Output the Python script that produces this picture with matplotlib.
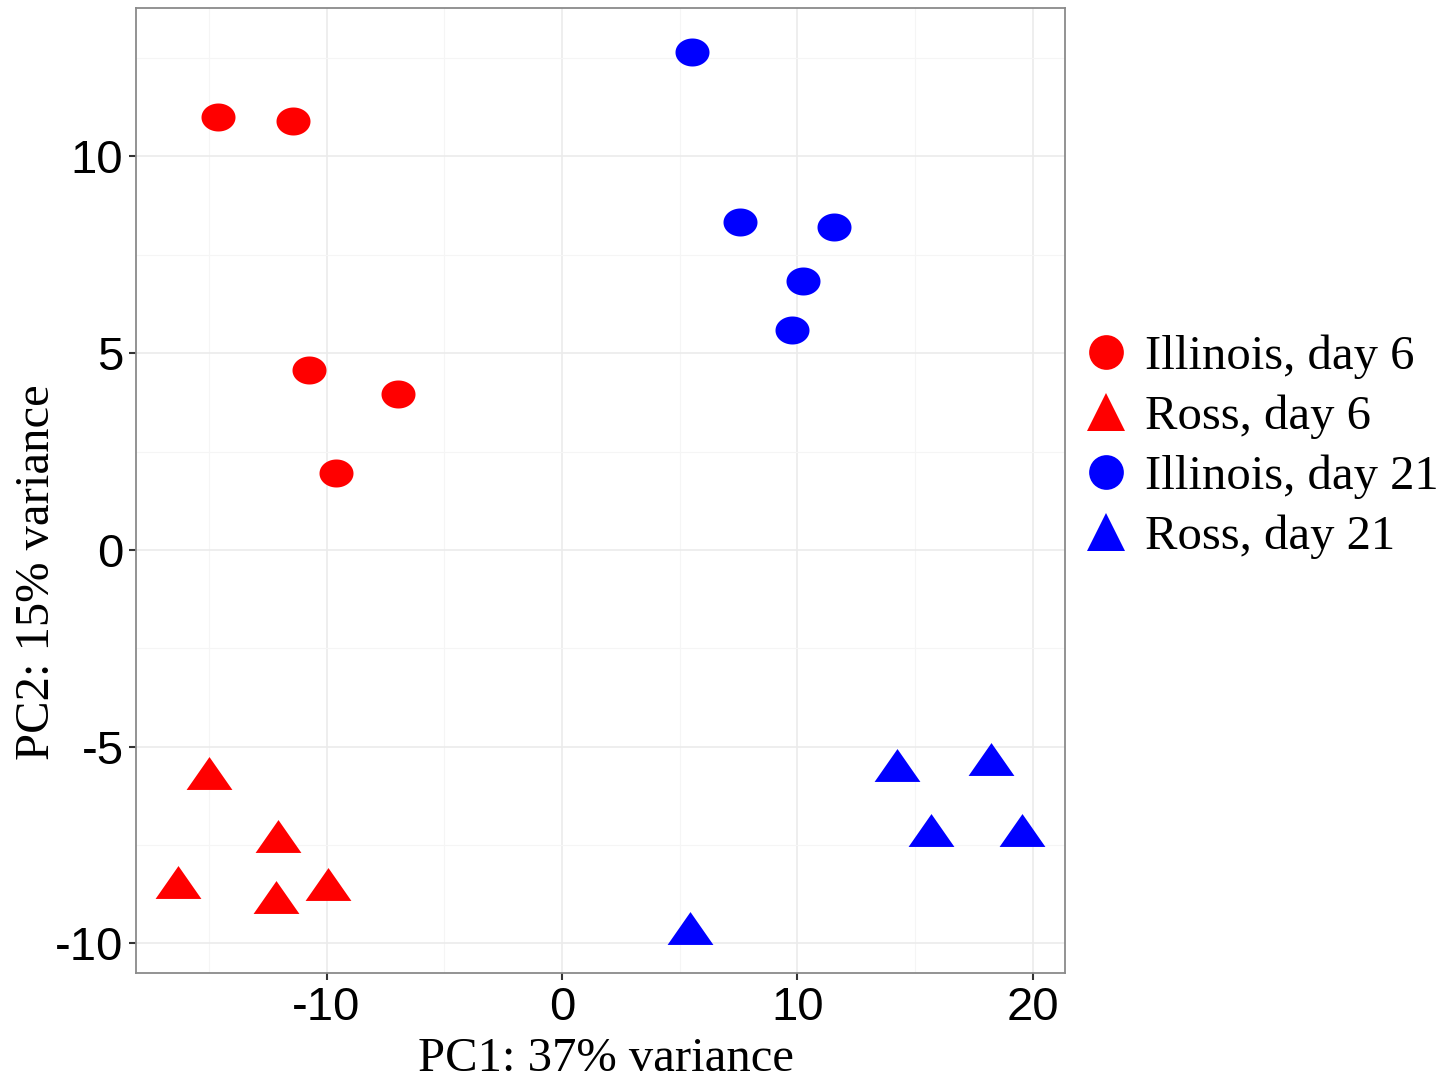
import numpy as np
import matplotlib
matplotlib.use("Agg")
import matplotlib.pyplot as plt
from matplotlib.path import Path
from matplotlib.lines import Line2D

plt.rcParams["axes.unicode_minus"] = False

# PCA scores
ill6_x = [-14.61, -11.42, -10.74, -6.96, -9.60]
ill6_y = [11.00, 10.90, 4.57, 3.96, 1.96]
ross6_x = [-15.00, -12.05, -16.32, -12.14, -9.92]
ross6_y = [-5.68, -7.26, -8.43, -8.83, -8.50]
ill21_x = [5.52, 7.56, 11.55, 10.23, 9.77]
ill21_y = [12.66, 8.34, 8.21, 6.84, 5.59]
ross21_x = [14.23, 18.22, 15.67, 19.53, 5.44]
ross21_y = [-5.46, -5.31, -7.12, -7.12, -9.61]

labels = ["Illinois, day 6", "Ross, day 6", "Illinois, day 21", "Ross, day 21"]
xticks = [-10, 0, 10, 20]
yticks = [-10, -5, 0, 5, 10]

# slightly squashed markers (the original picture is stretched sideways)
t = np.linspace(0, 2 * np.pi, 60)
ellipse = Path(np.column_stack([0.5 * np.cos(t), 0.5 * 28 / 34 * np.sin(t)]), closed=True)
h = 33 / 46
tri = Path([(-0.5, -h / 2), (0.5, -h / 2), (0, h / 2), (-0.5, -h / 2)], closed=True)

fig = plt.figure(figsize=(14.52, 10.8), dpi=100)
ax = fig.add_axes([136 / 1452, 1 - 973 / 1080, (1065 - 136) / 1452, (973 - 8) / 1080])

ax.plot(ill6_x, ill6_y, ls="none", marker=ellipse, ms=24.5, color="#FF0000", mew=0)
ax.plot(ross6_x, ross6_y, ls="none", marker=tri, ms=33, color="#FF0000", mew=0)
ax.plot(ill21_x, ill21_y, ls="none", marker=ellipse, ms=24.5, color="#0000FF", mew=0)
ax.plot(ross21_x, ross21_y, ls="none", marker=tri, ms=33, color="#0000FF", mew=0)

ax.set_xlim(-18.09, 21.36)
ax.set_ylim(-10.75, 13.77)
ax.set_xticks(xticks)
ax.set_xticklabels([str(v) for v in xticks])
ax.set_yticks(yticks)
ax.set_yticklabels([str(v) for v in yticks])
ax.set_xticks([-15, -5, 5, 15], minor=True)
ax.set_yticks([-7.5, -2.5, 2.5, 7.5, 12.5], minor=True)
ax.grid(which="major", color="#EBEBEB", lw=1.2)
ax.grid(which="minor", color="#F5F5F5", lw=0.8)
ax.set_axisbelow(True)
ax.tick_params(which="minor", length=0)
ax.tick_params(which="major", length=5, width=1.5, color="#333333", pad=4)
for lab in ax.get_xticklabels() + ax.get_yticklabels():
    lab.set_family("Liberation Sans")
    lab.set_fontsize(34)
    lab.set_color("black")
for s in ax.spines.values():
    s.set_color("#8a8a8a")
    s.set_linewidth(1.3)

ax.set_xlabel("PC1: 37% variance", family="Liberation Serif", fontsize=35)
ax.set_ylabel("PC2: 15% variance", family="Liberation Serif", fontsize=35)
ax.xaxis.set_label_coords(0.506, -0.066)
ax.yaxis.set_label_coords(-0.083, 0.415)

handles = [
    Line2D([], [], ls="none", marker="o", ms=25, color="#FF0000", mew=0),
    Line2D([], [], ls="none", marker="^", ms=27, color="#FF0000", mew=0),
    Line2D([], [], ls="none", marker="o", ms=25, color="#0000FF", mew=0),
    Line2D([], [], ls="none", marker="^", ms=27, color="#0000FF", mew=0),
]
fig.legend(handles, labels, loc="center left", bbox_to_anchor=(1062 / 1452, 1 - 447 / 1080),
           frameon=False, prop={"family": "Liberation Serif", "size": 35},
           handlelength=1.0, handletextpad=0.3, labelspacing=0.32, borderaxespad=0)

fig.savefig("out.png", dpi=100)
